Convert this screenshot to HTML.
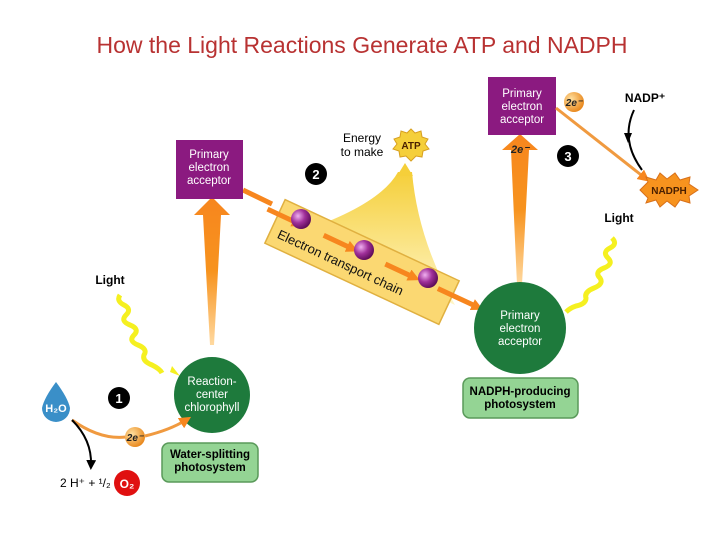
<!DOCTYPE html>
<html><head><meta charset="utf-8"><style>
html,body{margin:0;padding:0;background:#fff;}
svg{display:block;font-family:"Liberation Sans",Arial,sans-serif;}
</style></head><body>
<svg width="720" height="540" viewBox="0 0 720 540" xmlns="http://www.w3.org/2000/svg">
<defs>
<linearGradient id="og" x1="0" y1="1" x2="0" y2="0">
<stop offset="0" stop-color="#ffd9a0"/><stop offset="0.5" stop-color="#f7931e"/><stop offset="1" stop-color="#f7861e"/>
</linearGradient>
<radialGradient id="pb" cx="0.35" cy="0.35" r="0.7">
<stop offset="0" stop-color="#f0b0f0"/><stop offset="0.5" stop-color="#a0309a"/><stop offset="1" stop-color="#5a0a55"/>
</radialGradient>
<radialGradient id="ob" cx="0.35" cy="0.35" r="0.7">
<stop offset="0" stop-color="#ffe0a0"/><stop offset="1" stop-color="#e8861a"/>
</radialGradient>
<linearGradient id="fan" x1="0" y1="1" x2="0" y2="0">
<stop offset="0" stop-color="#fff6c8"/><stop offset="1" stop-color="#f5cf3a"/>
</linearGradient>
<marker id="ah" markerUnits="userSpaceOnUse" markerWidth="12" markerHeight="12" refX="6" refY="6" orient="auto"><path d="M0,0 L12,6 L0,12 z" fill="#f7861e"/></marker>
<marker id="bh" markerUnits="userSpaceOnUse" markerWidth="10" markerHeight="10" refX="5" refY="5" orient="auto"><path d="M0,0 L10,5 L0,10 z" fill="#000"/></marker>
</defs>

<text x="362" y="53" text-anchor="middle" font-size="23" fill="#b83232">How the Light Reactions Generate ATP and NADPH</text>

<!-- yellow fan -->
<path d="M300,232 Q380,205 398,172 L412,172 Q418,240 455,305 Z" fill="url(#fan)"/>
<path d="M397,176 L405,163 L413,176 Z" fill="#f5cf3a"/>

<!-- ETC band -->
<g transform="translate(362,262) rotate(25)">
<rect x="-96" y="-24" width="192" height="48" fill="#fbd872" stroke="#e0b040" stroke-width="1.5"/>
<line x1="-108" y1="-8" x2="-74" y2="-8" stroke="#f7861e" stroke-width="5" marker-end="url(#ah)"/>
<line x1="-46" y1="-8" x2="-14" y2="-8" stroke="#f7861e" stroke-width="5" marker-end="url(#ah)"/>
<line x1="22" y1="-8" x2="54" y2="-8" stroke="#f7861e" stroke-width="5" marker-end="url(#ah)"/>
<line x1="80" y1="-8" x2="124" y2="-8" stroke="#f7861e" stroke-width="5" marker-end="url(#ah)"/>
<text x="-88" y="14" font-size="13" fill="#111">Electron transport chain</text>
</g>
<circle cx="301" cy="219" r="10" fill="url(#pb)"/>
<circle cx="364" cy="250" r="10" fill="url(#pb)"/>
<circle cx="428" cy="278" r="10" fill="url(#pb)"/>

<!-- orange arrow purple to ETC -->
<line x1="243" y1="190" x2="272" y2="204" stroke="#f7861e" stroke-width="5"/>

<!-- up arrows -->
<path d="M210,345 L203,215 L194,215 L212,197 L230,215 L221,215 L214,345 Z" fill="url(#og)"/>
<path d="M517,285 L511,150 L502,150 L520,134 L538,150 L529,150 L522,285 Z" fill="url(#og)"/>
<text x="520" y="153" text-anchor="middle" font-size="11" font-weight="bold" font-style="italic" fill="#222">2e⁻</text>

<!-- purple boxes -->
<rect x="176" y="140" width="67" height="59" fill="#8b1a80"/>
<text font-size="11.5" fill="#fff" text-anchor="middle"><tspan x="209" y="158">Primary</tspan><tspan x="209" y="171">electron</tspan><tspan x="209" y="184">acceptor</tspan></text>
<rect x="488" y="77" width="68" height="58" fill="#8b1a80"/>
<text font-size="11.5" fill="#fff" text-anchor="middle"><tspan x="522" y="97">Primary</tspan><tspan x="522" y="110">electron</tspan><tspan x="522" y="123">acceptor</tspan></text>

<!-- right 2e and line to NADPH -->
<line x1="556" y1="108" x2="645" y2="178" stroke="#f09a40" stroke-width="3" marker-end="url(#ah)"/>
<circle cx="574" cy="102" r="10" fill="url(#ob)"/>
<text x="574" y="106" text-anchor="middle" font-size="10" font-weight="bold" font-style="italic" fill="#222">2e⁻</text>

<text x="645" y="102" text-anchor="middle" font-size="12" font-weight="bold" fill="#000">NADP⁺</text>
<path d="M634,110 Q620,140 642,170" stroke="#000" stroke-width="2" fill="none"/>
<path d="M624,133 L628,143 L632,133 Z" fill="#000"/>

<!-- NADPH starburst -->
<polygon points="640,190 648,182 646,177 656,180 660,173 667,179 675,173 680,180 690,177 689,184 698,190 689,196 690,203 680,200 675,207 667,201 660,207 656,200 646,203 648,198" fill="#f7931e" stroke="#d8701a"/>
<text x="669" y="194" text-anchor="middle" font-size="10" font-weight="bold" fill="#4a2000">NADPH</text>

<!-- ATP starburst -->
<polygon points="411,129 415,133 421,131 422,137 428,139 425,144 429,149 423,151 422,157 416,156 411,161 406,156 400,157 399,151 393,149 397,144 394,139 400,137 401,131 407,133" fill="#f5cf3a" stroke="#d8a020"/>
<text x="411" y="149" text-anchor="middle" font-size="10" font-weight="bold" fill="#4a2000">ATP</text>
<text font-size="12" fill="#000" text-anchor="middle"><tspan x="362" y="142">Energy</tspan><tspan x="362" y="156">to make</tspan></text>

<!-- number badges -->
<circle cx="316" cy="174" r="11" fill="#000"/><text x="316" y="179" text-anchor="middle" font-size="13" font-weight="bold" fill="#fff">2</text>
<circle cx="568" cy="156" r="11" fill="#000"/><text x="568" y="161" text-anchor="middle" font-size="13" font-weight="bold" fill="#fff">3</text>
<circle cx="119" cy="398" r="11" fill="#000"/><text x="119" y="403" text-anchor="middle" font-size="13" font-weight="bold" fill="#fff">1</text>

<!-- Light -->
<text x="110" y="284" text-anchor="middle" font-size="12" font-weight="bold">Light</text>
<text x="619" y="222" text-anchor="middle" font-size="12" font-weight="bold">Light</text>
<path d="M120,295 q-4,6 4,10 q8,4 2,10 q-6,6 4,10 q10,4 4,10 q-6,6 4,10 q10,4 6,10 q-2,6 8,10 q8,4 10,8" stroke="#f5f020" stroke-width="5" fill="none"/>
<path d="M170,372 L180,376 L172,366 Z" fill="#f5f020"/>
<path d="M612,238 q6,6 -2,10 q-8,4 -2,10 q6,6 -4,10 q-10,4 -4,10 q4,6 -6,10 q-10,4 -8,10 q0,6 -10,8 q-6,2 -10,6" stroke="#f5f020" stroke-width="5" fill="none"/>

<!-- green circles -->
<circle cx="212" cy="395" r="38" fill="#1e7a3c"/>
<text font-size="11.5" fill="#fff" text-anchor="middle"><tspan x="212" y="385">Reaction-</tspan><tspan x="212" y="398">center</tspan><tspan x="212" y="411">chlorophyll</tspan></text>
<circle cx="520" cy="328" r="46" fill="#1e7a3c"/>
<text font-size="11.5" fill="#fff" text-anchor="middle"><tspan x="520" y="319">Primary</tspan><tspan x="520" y="332">electron</tspan><tspan x="520" y="345">acceptor</tspan></text>

<!-- green boxes -->
<rect x="162" y="443" width="96" height="39" rx="7" fill="#94d494" stroke="#5a9a5a" stroke-width="1.5"/>
<text font-size="11.5" font-weight="bold" fill="#000" text-anchor="middle"><tspan x="210" y="458">Water-splitting</tspan><tspan x="210" y="471">photosystem</tspan></text>
<rect x="463" y="378" width="115" height="40" rx="7" fill="#94d494" stroke="#5a9a5a" stroke-width="1.5"/>
<text font-size="11.5" font-weight="bold" fill="#000" text-anchor="middle"><tspan x="520" y="395">NADPH-producing</tspan><tspan x="520" y="408">photosystem</tspan></text>

<!-- H2O and 2e -->
<path d="M56,382 Q44,398 42,408 A14,14 0 0 0 70,408 Q68,398 56,382 Z" fill="#3a8fc8"/>
<text x="56" y="412" text-anchor="middle" font-size="11" font-weight="bold" fill="#fff">H₂O</text>
<path d="M72,420 Q100,440 126,437" stroke="#f09a40" stroke-width="3" fill="none"/>
<path d="M145,436 Q170,430 186,420" stroke="#f09a40" stroke-width="3" fill="none" marker-end="url(#ah)"/>
<circle cx="135" cy="437" r="10" fill="url(#ob)"/>
<text x="135" y="441" text-anchor="middle" font-size="10" font-weight="bold" font-style="italic" fill="#222">2e⁻</text>
<path d="M72,420 Q92,440 91,465" stroke="#000" stroke-width="2" fill="none" marker-end="url(#bh)"/>
<text x="60" y="487" font-size="12" fill="#000">2 H⁺ + ¹/₂</text>
<circle cx="127" cy="483" r="13" fill="#e01010"/>
<text x="127" y="488" text-anchor="middle" font-size="12" font-weight="bold" fill="#fff">O₂</text>
</svg>
</body></html>
